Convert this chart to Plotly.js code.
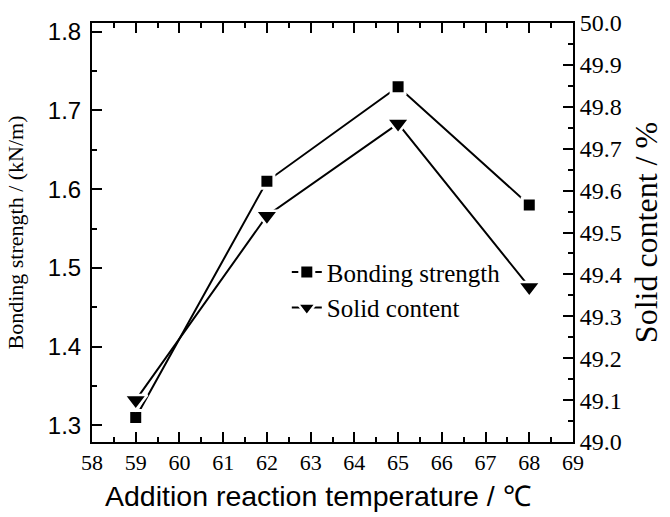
<!DOCTYPE html>
<html><head><meta charset="utf-8">
<script src="https://cdn.plot.ly/plotly-3.0.1.min.js"></script>
<style>body{margin:0;background:#fff}</style>
</head><body><div id="chart" style="width:670px;height:517px"></div>
<script>
const temperature = [59, 62, 65, 68];
const bondingStrength = [1.31, 1.61, 1.73, 1.58];
const solidContent = [49.10, 49.54, 49.76, 49.37];
const seriesNames = ['Bonding strength', 'Solid content'];
const xTitle = 'Addition reaction temperature / \u2103';

const SERIF = '"Liberation Serif", "Times New Roman", serif';
const SANS = '"Liberation Sans", Arial, sans-serif';

const traces = [
  {
    x: temperature, y: bondingStrength, name: seriesNames[0], type: 'scatter', mode: 'lines+markers',
    line: {color: '#000', width: 2},
    marker: {symbol: 'square', size: 14, color: '#000', line: {color: '#fff', width: 3}},
    yaxis: 'y'
  },
  {
    x: temperature, y: solidContent, name: seriesNames[1], type: 'scatter', mode: 'lines+markers',
    line: {color: '#000', width: 2},
    marker: {symbol: 'triangle-down', size: 20, color: '#000', line: {color: '#fff', width: 2.5}},
    yaxis: 'y2'
  }
];

const layout = {
  width: 670, height: 517,
  margin: {l: 92, r: 97, t: 23, b: 75},
  paper_bgcolor: '#fff', plot_bgcolor: '#fff',
  font: {family: SERIF, size: 22, color: '#000'},
  showlegend: true,
  legend: {x: 0.405, y: 0.46, xanchor: 'left', yanchor: 'top', bgcolor: 'rgba(0,0,0,0)',
           font: {family: SERIF, size: 25, color: '#000'}, tracegroupgap: 0},
  xaxis: {
    range: [58, 69], dtick: 1, tick0: 58, ticks: 'inside', ticklen: 10, tickwidth: 2, tickcolor: '#000',
    showline: true, linewidth: 2, linecolor: '#000', mirror: 'ticks', showgrid: false, zeroline: false,
    minor: {dtick: 0.5, ticks: 'inside', ticklen: 5, tickwidth: 2, tickcolor: '#000', showgrid: false},
    tickfont: {family: SERIF, size: 22, color: '#000'}
  },
  yaxis: {
    range: [1.279, 1.811], dtick: 0.1, tick0: 1.3, ticks: 'inside', ticklen: 10, tickwidth: 2, tickcolor: '#000',
    showline: true, linewidth: 2, linecolor: '#000', mirror: false, showgrid: false, zeroline: false,
    minor: {dtick: 0.05, ticks: 'inside', ticklen: 5, tickwidth: 2, tickcolor: '#000', showgrid: false},
    tickformat: '.1f', ticklabelstandoff: 4,
    tickfont: {family: SANS, size: 24, color: '#000'},
    title: {text: 'Bonding strength / (kN/m)', font: {family: SERIF, size: 22, color: '#000'}, standoff: 18}
  },
  yaxis2: {
    overlaying: 'y', side: 'right',
    range: [49.0, 50.0], dtick: 0.1, tick0: 49, ticks: 'inside', ticklen: 10, tickwidth: 2, tickcolor: '#000',
    showline: true, linewidth: 2, linecolor: '#000', showgrid: false, zeroline: false,
    minor: {dtick: 0.05, ticks: 'inside', ticklen: 5, tickwidth: 2, tickcolor: '#000', showgrid: false},
    tickformat: '.1f',
    tickfont: {family: SERIF, size: 24, color: '#000'},
    title: {text: 'Solid content / %', font: {family: SERIF, size: 32, color: '#000'}, standoff: 14}
  },
  annotations: [{
    text: xTitle, xref: 'paper', yref: 'paper', x: 0.4695, y: -0.13,
    xanchor: 'center', yanchor: 'middle', showarrow: false,
    font: {family: SANS, size: 28.5, color: '#000'}
  }]
};

Plotly.newPlot('chart', traces, layout, {displayModeBar: false, staticPlot: true});
</script></body></html>
